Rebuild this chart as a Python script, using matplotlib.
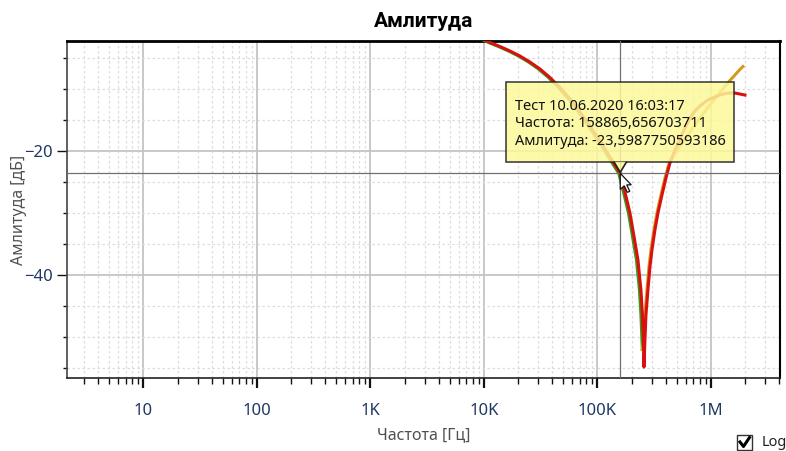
import matplotlib
matplotlib.use('Agg')
import matplotlib.pyplot as plt
from matplotlib.patches import Rectangle, Polygon
from matplotlib.lines import Line2D
from matplotlib.ticker import FixedLocator, FuncFormatter, NullFormatter
from matplotlib.transforms import IdentityTransform

plt.rcParams['font.family'] = ['Noto Sans', 'DejaVu Sans']

# Dados das curvas (frequencia em Hz, amplitude em dB)
verde_freq = [8.94e3, 10.96e3, 13.42e3, 16.44e3, 20.14e3, 24.67e3, 30.21e3, 37.01e3, 45.32e3,
              55.51e3, 68.0e3, 83.3e3, 102.0e3, 125.0e3, 154.1e3, 169.5e3, 187.6e3, 203.4e3,
              220.7e3, 234.4e3, 241.7e3, 246.7e3, 248.5e3]
verde_db = [-1.77, -2.50, -3.15, -3.87, -4.68, -5.65, -6.77, -8.15, -9.76,
            -11.61, -13.71, -15.97, -18.39, -20.97, -23.60, -26.61, -30.00, -33.71,
            -37.58, -42.42, -46.45, -50.48, -52.0]

dourado_freq = [248.5e3, 256.9e3, 262.2e3, 272.9e3, 284.3e3, 296.1e3, 314.6e3, 334.4e3, 362.7e3,
                393.3e3, 435.3e3, 533.3e3, 653.1e3, 800.0e3, 979.9e3, 1.200e6, 1.470e6,
                1.801e6, 1.914e6]
dourado_db = [-52.0, -50.48, -46.45, -42.42, -38.71, -35.97, -32.74, -30.00, -27.10,
              -24.35, -21.61, -19.27, -16.94, -14.68, -12.58, -10.56, -8.63,
              -6.85, -6.37]

vermelho_freq = [9.22e3, 11.30e3, 13.84e3, 16.95e3, 20.76e3, 25.43e3, 31.14e3, 38.15e3, 46.72e3,
                 57.23e3, 70.10e3, 85.87e3, 105.2e3, 128.9e3, 158.9e3, 174.7e3, 193.4e3, 209.7e3,
                 227.5e3, 241.7e3, 249.2e3, 254.3e3, 256.9e3,
                 262.1e3, 267.5e3, 278.5e3, 290.1e3, 302.1e3, 321.0e3, 341.2e3, 370.1e3, 401.3e3,
                 435.3e3, 481.7e3, 533.3e3, 590.2e3, 653.1e3, 722.8e3, 800.0e3, 885.2e3, 979.9e3,
                 1.084e6, 1.200e6, 1.328e6, 1.470e6, 1.627e6, 1.801e6, 1.994e6]
vermelho_db = [-1.77, -2.50, -3.15, -3.87, -4.68, -5.65, -6.77, -8.15, -9.76,
               -11.61, -13.71, -15.97, -18.39, -20.97, -23.60, -26.61, -30.00, -33.71,
               -37.58, -42.42, -46.45, -50.48, -54.84,
               -50.48, -46.45, -42.42, -38.71, -35.97, -32.74, -30.00, -27.10, -24.35,
               -21.94, -19.84, -18.06, -16.29, -14.68, -13.55, -12.74, -12.10, -11.61,
               -11.29, -10.97, -10.73, -10.65, -10.65, -10.81, -10.97]

# Ponto do tooltip
tip_freq = 158865.656703711
tip_db = -23.5987750593186
tip_linhas = ['Тест 10.06.2020 16:03:17',
              'Частота: 158865,656703711',
              'Амлитуда: -23,5987750593186']

ticks_x = [10, 100, 1e3, 1e4, 1e5, 1e6]
ticks_y = [-20, -40]
ticks_y_menores = [-5, -10, -15, -25, -30, -35, -45, -50, -55]

W, H = 786, 451
fig = plt.figure(figsize=(W / 100, H / 100), dpi=100)
ax = fig.add_axes([67 / W, 1 - 378 / H, (780 - 67) / W, (378 - 41) / H])

ax.set_xscale('log')
ax.set_xlim(2.12, 4.06e6)
ax.set_ylim(-56.6, -2.26)

# grade e ticks
menores_x = [m * 10 ** e for e in range(0, 7) for m in range(2, 10)]
ax.xaxis.set_major_locator(FixedLocator(ticks_x))
ax.xaxis.set_minor_locator(FixedLocator(menores_x))
ax.xaxis.set_minor_formatter(NullFormatter())

def fmt_freq(v, pos):
    if v >= 1e6:
        return '%dM' % round(v / 1e6)
    if v >= 1e3:
        return '%dK' % round(v / 1e3)
    return '%d' % round(v)

ax.xaxis.set_major_formatter(FuncFormatter(fmt_freq))
ax.yaxis.set_major_locator(FixedLocator(ticks_y))
ax.yaxis.set_minor_locator(FixedLocator(ticks_y_menores))

ax.grid(True, which='major', color='#c4c4c4', linewidth=1.3, linestyle='-')
ax.grid(True, which='minor', color='#dddddd', linewidth=0.9, linestyle=(0, (2, 2)))

cor_ticks = '#1f3864'
ax.tick_params(axis='x', which='major', length=7, width=1.6, color='#111111', labelsize=12,
               labelcolor=cor_ticks, pad=11)
ax.tick_params(axis='x', which='minor', length=4, width=1.0, color='#111111')
ax.tick_params(axis='y', which='major', length=7, width=1.0, color='#111111', labelsize=12,
               labelcolor=cor_ticks, pad=3)
ax.tick_params(axis='y', which='minor', length=3, width=1.0, color='#111111')

for lado, cor, lw in [('top', '#000000', 2.0), ('right', '#000000', 1.5),
                      ('left', '#444444', 1.2), ('bottom', '#222222', 1.2)]:
    ax.spines[lado].set_color(cor)
    ax.spines[lado].set_linewidth(lw)

# curvas
ax.plot(verde_freq, verde_db, color='#3c9a1a', linewidth=2.2, zorder=3)
ax.plot(dourado_freq, dourado_db, color='#d49a1c', linewidth=2.2, zorder=3)
ax.plot(vermelho_freq, vermelho_db, color='#d81010', linewidth=2.2, zorder=4)

# cursor em cruz
ax.axvline(tip_freq, color='#707070', linewidth=0.9, zorder=5)
ax.axhline(tip_db, color='#707070', linewidth=0.9, zorder=5)

ax.set_title('Амлитуда', fontsize=15, fontweight='bold', color='#000000', pad=10,
             family=['Roboto', 'DejaVu Sans'])
ax.set_xlabel('Частота [Гц]', fontsize=11.5, color='#505050', labelpad=6)
ax.set_ylabel('Амлитуда [дБ]', fontsize=11.5, color='#505050', labelpad=-2)

# tooltip em coordenadas de pixel
ident = IdentityTransform()
tx, ty = ax.transData.transform((tip_freq, tip_db))
bx0, bx1 = tx - 114, tx + 114
by0, by1 = ty + 11, ty + 91
fundo = '#fcf99a'
fig.add_artist(Rectangle((bx0, by0), bx1 - bx0, by1 - by0, transform=ident,
                         facecolor=fundo, edgecolor='#222222', linewidth=1.2, alpha=0.85, zorder=10))
fig.add_artist(Polygon([(tx - 6, by0 + 0.5), (tx + 6, by0 + 0.5), (tx, ty + 1)], closed=True,
                       transform=ident, facecolor=fundo, edgecolor='none', alpha=0.85, zorder=11))
fig.add_artist(Line2D([tx - 6, tx, tx + 6], [by0, ty + 1, by0], transform=ident,
                      color='#222222', linewidth=1.2, zorder=11))
for i, linha in enumerate(tip_linhas):
    fig.text(bx0 + 9, by1 - 24 - i * 17.5, linha, transform=ident, fontsize=10.5,
             color='#111111', va='center', ha='left', zorder=12)

# ponteiro do mouse
seta = [(0, 0), (0, -16), (4, -12.5), (7, -19), (9.5, -18), (6.5, -11.5), (11, -11.5)]
fig.add_artist(Polygon([(tx + px, ty + py) for px, py in seta], closed=True, transform=ident,
                       facecolor='white', edgecolor='#111111', linewidth=0.9, zorder=13))

# caixa "Log"
fig.add_artist(Rectangle((737, H - 450), 15, 15, transform=ident, facecolor='white',
                         edgecolor='#333333', linewidth=1.0, zorder=10))
fig.add_artist(Line2D([740, 743.5, 749.5], [H - 442, H - 446.5, H - 437.5], transform=ident,
                      color='#000000', linewidth=2.2, zorder=11))
fig.text(762, H - 442, 'Log', transform=ident, fontsize=10.5, color='#222222',
         va='center', ha='left')

fig.savefig('out.png', dpi=100)
